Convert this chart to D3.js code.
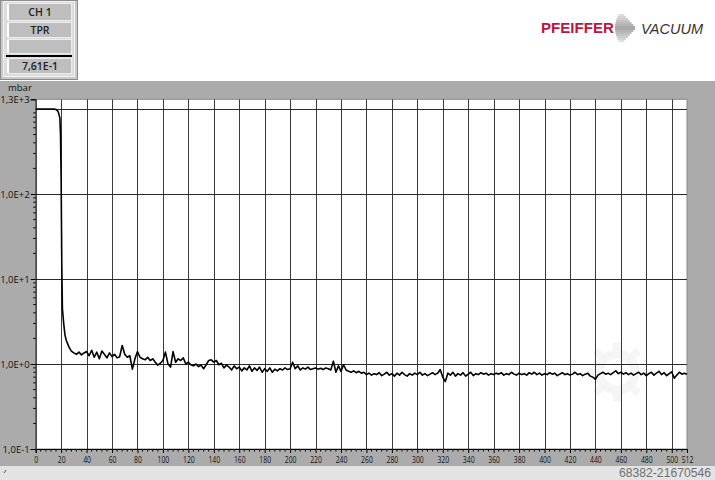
<!DOCTYPE html>
<html><head><meta charset="utf-8">
<script src="https://cdn.jsdelivr.net/npm/d3@7"></script>
<style>html,body{margin:0;padding:0;background:#fff;}svg{display:block;}</style>
</head><body>
<svg id="chart" width="715" height="480"></svg>
<script>
// ---------- data ----------
const startTimes = [0, 4, 8, 12, 15, 16, 17, 18, 19, 19.5, 20, 20.5, 21, 22, 23];
const startPressure = [1000, 1000, 1000, 1000, 995, 985, 960, 900, 780, 500, 150, 15, 4.5, 3.0, 2.2];
// regular samples every 2 s from t = 24 to 512
const sampleStart = 24, sampleStep = 2;
const samplePressure = [
 1.9,1.6,1.42,1.35,1.3,1.38,1.28,1.35,1.4,1.25,
 1.45,1.2,1.38,1.15,1.42,1.3,1.18,1.35,1.22,1.3,
 1.18,1.22,1.65,1.3,1.2,1.25,0.87,1.15,1.4,1.2,
 1.15,1.12,1.2,1.1,1.15,1.05,0.97,1.02,1.1,1.38,
 1.0,0.92,1.4,1.05,1.15,1.1,1.18,1.0,1.05,0.98,
 0.95,1.0,0.93,0.97,0.88,0.98,1.1,1.12,1.05,1.1,
 0.98,1.02,0.9,0.97,0.92,0.85,0.95,0.88,0.92,0.83,
 0.9,0.85,0.95,0.82,0.9,0.84,0.92,0.8,0.88,0.82,
 0.9,0.8,0.87,0.83,0.88,0.85,0.9,0.86,0.88,1.05,
 0.88,0.95,0.85,0.9,0.87,0.92,0.86,0.88,0.9,0.87,
 0.89,0.86,0.9,0.88,0.85,1.08,0.8,0.95,0.82,0.98,
 0.85,0.82,0.8,0.83,0.79,0.82,0.78,0.8,0.75,0.78,
 0.74,0.77,0.75,0.79,0.73,0.76,0.8,0.74,0.77,0.72,
 0.78,0.74,0.8,0.75,0.72,0.77,0.74,0.78,0.75,0.8,
 0.74,0.77,0.73,0.76,0.79,0.75,0.78,0.86,0.7,0.62,
 0.78,0.74,0.8,0.72,0.77,0.74,0.79,0.72,0.76,0.8,
 0.73,0.77,0.75,0.79,0.76,0.78,0.74,0.77,0.75,0.78,
 0.76,0.79,0.74,0.77,0.75,0.8,0.76,0.74,0.78,0.75,
 0.77,0.74,0.79,0.76,0.8,0.75,0.78,0.74,0.77,0.75,
 0.79,0.76,0.78,0.73,0.76,0.79,0.75,0.77,0.74,0.76,
 0.8,0.75,0.77,0.73,0.76,0.78,0.72,0.7,0.66,0.74,
 0.77,0.8,0.76,0.78,0.75,0.79,0.83,0.77,0.8,0.76,
 0.79,0.75,0.78,0.74,0.77,0.8,0.75,0.78,0.73,0.77,
 0.8,0.74,0.78,0.82,0.75,0.79,0.73,0.77,0.81,0.68,
 0.74,0.8,0.76,0.78,0.76
];
const xTicks = d3.range(0, 501, 20).concat([512]);
const yTickValues = [1300, 100, 10, 1, 0.1];
const yTickLabels = ["1,3E+3", "1,0E+2", "1,0E+1", "1,0E+0", "1,0E-1"];
const yGridValues = [1000, 100, 10, 1];
const boxLabels = ["CH 1", "TPR", "", "7,61E-1"];
const unitLabel = "mbar";
const watermark = "68382-21670546";

const series = startTimes.map((t, i) => ({t, p: startPressure[i]}))
  .concat(samplePressure.map((p, i) => ({t: sampleStart + i * sampleStep, p})));

// ---------- layout ----------
const svg = d3.select("#chart");
const FONT = "'Open Sans', 'Liberation Sans', sans-serif";
const plot = {left: 35.7, right: 687, top: 99.3, bottom: 449};

const x = d3.scaleLinear().domain([0, 512]).range([plot.left, plot.right]);
const y = d3.scaleLog().domain([0.1, 1300]).range([plot.bottom, plot.top]);

// background panels
svg.append("rect").attr("x", 0).attr("y", 81).attr("width", 715).attr("height", 385).attr("fill", "#ababab");
svg.append("rect").attr("x", 0).attr("y", 466).attr("width", 715).attr("height", 14).attr("fill", "#e3e3e3");
svg.append("path").attr("d", "M4,473 L6,470").attr("stroke", "#555").attr("stroke-width", 1);

// plot area
svg.append("rect").attr("x", plot.left).attr("y", plot.top)
  .attr("width", plot.right - plot.left).attr("height", plot.bottom - plot.top)
  .attr("fill", "#fff").attr("stroke", "#8a8a8a").attr("stroke-width", 1);

// faint gear watermark
const gear = svg.append("g").attr("transform", "translate(617,372)").attr("opacity", 0.035);
gear.append("circle").attr("r", 18).attr("fill", "none").attr("stroke", "#000").attr("stroke-width", 9);
d3.range(8).forEach(k => {
  gear.append("rect").attr("x", -4).attr("y", -30).attr("width", 8).attr("height", 9)
    .attr("transform", `rotate(${k * 45})`).attr("fill", "#000");
});

// gridlines
svg.append("g").selectAll("line").data(xTicks.filter(d => d > 0 && d < 512)).join("line")
  .attr("x1", d => Math.round(x(d)) + 0.5).attr("x2", d => Math.round(x(d)) + 0.5)
  .attr("y1", plot.top).attr("y2", plot.bottom)
  .attr("stroke", "#3a3a3a").attr("stroke-width", 1);
svg.append("g").selectAll("line").data(yGridValues).join("line")
  .attr("x1", plot.left).attr("x2", plot.right)
  .attr("y1", d => Math.round(y(d)) + 0.5).attr("y2", d => Math.round(y(d)) + 0.5)
  .attr("stroke", "#2a2a2a").attr("stroke-width", 1);

// x axis
const xAxis = d3.axisBottom(x).tickValues(xTicks).tickSize(4).tickPadding(3).tickFormat(d3.format("d"));
const gx = svg.append("g").attr("transform", `translate(0,${plot.bottom})`).call(xAxis);
gx.select(".domain").attr("stroke", "#000");
gx.selectAll(".tick line").attr("stroke", "#000");
gx.selectAll("text").attr("font-family", FONT).attr("font-size", 9.5).attr("fill", "#111")
  .each(function(d) {
    const n = String(d).length;
    d3.select(this).attr("textLength", n * 3.9).attr("lengthAdjust", "spacingAndGlyphs");
  });
const xMinor = d3.range(0, 512, 4).filter(d => d % 20 !== 0);
svg.append("g").selectAll("line").data(xMinor).join("line")
  .attr("x1", d => x(d)).attr("x2", d => x(d)).attr("y1", plot.bottom).attr("y2", plot.bottom + 2.5)
  .attr("stroke", "#000").attr("stroke-width", 1);

// y axis
const yAxis = d3.axisLeft(y).tickValues(yTickValues).tickSize(5).tickPadding(1)
  .tickFormat((d, i) => yTickLabels[i]);
const gy = svg.append("g").attr("transform", `translate(${plot.left},0)`).call(yAxis);
gy.select(".domain").attr("stroke", "#000");
gy.selectAll(".tick line").attr("stroke", "#000");
gy.selectAll("text").attr("font-family", FONT).attr("font-size", 9.5).attr("fill", "#111");
const yMinor = [];
[0.1, 1, 10, 100].forEach(dec => d3.range(2, 10).forEach(m => yMinor.push(dec * m)));
svg.append("g").selectAll("line").data(yMinor).join("line")
  .attr("x1", plot.left - 2.5).attr("x2", plot.left)
  .attr("y1", d => y(d)).attr("y2", d => y(d))
  .attr("stroke", "#000").attr("stroke-width", 1);

svg.append("text").attr("x", 8).attr("y", 91).text(unitLabel)
  .attr("font-family", FONT).attr("font-size", 9.5).attr("fill", "#111");

// data line
const line = d3.line().x(d => x(d.t)).y(d => y(d.p));
svg.append("path").datum(series).attr("d", line)
  .attr("fill", "none").attr("stroke", "#000").attr("stroke-width", 1.6)
  .attr("stroke-linejoin", "round");

// ---------- top-left info box ----------
const box = svg.append("g");
box.append("rect").attr("x", 0.5).attr("y", 0.5).attr("width", 77).attr("height", 79)
  .attr("fill", "#c9c9c9").attr("stroke", "#8c8c8c");
box.append("rect").attr("x", 3.5).attr("y", 1.5).attr("width", 71).attr("height", 75)
  .attr("fill", "#dcdcdc").attr("stroke", "#f2f2f2");
const fields = [[3, 17], [22, 15], [39, 14], [58, 15]];
fields.forEach((f, i) => {
  box.append("rect").attr("x", 8.5).attr("y", f[0] + 0.5).attr("width", 63).attr("height", f[1])
    .attr("fill", "#bebebe").attr("stroke", "#ececec");
  box.append("rect").attr("x", 7).attr("y", f[0] + 1).attr("width", 2).attr("height", f[1] - 1)
    .attr("fill", "#fff");
  box.append("text").attr("x", 40).attr("y", f[0] + f[1] / 2 + 4).attr("text-anchor", "middle")
    .text(boxLabels[i]).attr("font-family", FONT).attr("font-size", 10.5)
    .attr("font-weight", 600).attr("fill", "#222");
});
box.append("rect").attr("x", 6).attr("y", 55).attr("width", 66).attr("height", 2).attr("fill", "#000");

// ---------- logo ----------
const logo = svg.append("g");
logo.append("text").attr("x", 541).attr("y", 33).text("PFEIFFER")
  .attr("font-family", "'Liberation Sans', Arial, sans-serif").attr("font-weight", "bold")
  .attr("font-size", 14.5).attr("textLength", 73).attr("lengthAdjust", "spacingAndGlyphs")
  .attr("fill", "#b8183f");
d3.range(15, 42, 2).forEach((yy, k) => {
  const dy = Math.abs(yy - 28);
  const xl = 615 + (dy * dy) / 50;
  const xr = 636 - dy * 0.9;
  const grad = Math.min(1, Math.max(0, dy / 14));
  logo.append("line").attr("x1", xl).attr("x2", xr).attr("y1", yy).attr("y2", yy)
    .attr("stroke", d3.interpolateRgb("#6a6a6a", "#d0d0d0")(grad)).attr("stroke-width", 1.2);
});
logo.append("text").attr("x", 641).attr("y", 34).text("VACUUM")
  .attr("font-family", "'Liberation Sans', Arial, sans-serif").attr("font-style", "italic")
  .attr("font-size", 14.5).attr("textLength", 62).attr("lengthAdjust", "spacingAndGlyphs")
  .attr("fill", "#333");

// watermark id
svg.append("text").attr("x", 711).attr("y", 477).attr("text-anchor", "end").text(watermark)
  .attr("font-family", "'Liberation Sans', Arial, sans-serif").attr("font-size", 12.5)
  .attr("textLength", 92).attr("lengthAdjust", "spacingAndGlyphs").attr("fill", "#6f6f6f");
</script>
</body></html>
